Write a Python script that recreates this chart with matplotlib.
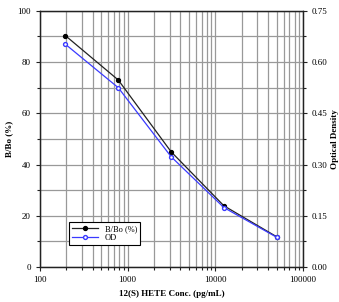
import matplotlib
matplotlib.use("Agg")
import matplotlib.pyplot as plt
from matplotlib.ticker import MultipleLocator, LogLocator, NullFormatter, FuncFormatter

conc = [195.3, 781.25, 3125, 12500, 50000]
bbo = [90.3, 73.0, 45.0, 23.9, 11.8]
od = [0.652, 0.525, 0.323, 0.174, 0.087]

xlabel = "12(S) HETE Conc. (pg/mL)"
ylabel_left = "B/Bo (%)"
ylabel_right = "Optical Density"
leg_labels = ["B/Bo (%)", "OD"]

plt.rcParams['font.family'] = ['Liberation Serif', 'DejaVu Serif']

fig = plt.figure(figsize=(3.39, 3.02), dpi=100)
ax = fig.add_axes([0.118, 0.116, 0.776, 0.848])
ax2 = ax.twinx()

ax.set_xscale('log')
ax.set_xlim(100, 100000)
ax.set_ylim(0, 100)
ax2.set_ylim(0, 0.75)

ax.xaxis.set_major_locator(LogLocator(base=10))
ax.xaxis.set_minor_locator(LogLocator(base=10, subs=range(2, 10)))
ax.xaxis.set_minor_formatter(NullFormatter())
ax.xaxis.set_major_formatter(FuncFormatter(lambda v, p: f"{int(v)}"))
ax.yaxis.set_major_locator(MultipleLocator(20))
ax.yaxis.set_minor_locator(MultipleLocator(10))
ax2.yaxis.set_major_locator(MultipleLocator(0.15))
ax2.yaxis.set_minor_locator(MultipleLocator(0.075))
ax2.yaxis.set_major_formatter(FuncFormatter(lambda v, p: f"{v:.2f}"))

gc = '#999999'
ax.grid(True, which='major', axis='both', color=gc, lw=0.9)
ax.grid(True, which='minor', axis='both', color=gc, lw=0.9)
ax.set_axisbelow(True)

for a in (ax, ax2):
    a.tick_params(which='both', direction='out', labelsize=6.5, width=0.8, color='#222222')
    a.tick_params(which='major', length=3)
    a.tick_params(which='minor', length=2)
    for s in a.spines.values():
        s.set_color('#222222')
        s.set_linewidth(0.9)

l1, = ax.plot(conc, bbo, color='#222222', lw=0.9, marker='o', ms=2.8,
              mfc='black', mec='black', label=leg_labels[0])
l2, = ax2.plot(conc, od, color='#3a3aff', lw=0.9, marker='o', ms=2.8,
               mfc='white', mec='#3a3aff', label=leg_labels[1])

ax.set_xlabel(xlabel, fontsize=6.5, fontweight='bold', labelpad=4)
ax.set_ylabel(ylabel_left, fontsize=6.5, fontweight='bold', labelpad=3)
ax2.set_ylabel(ylabel_right, fontsize=6.5, fontweight='bold', labelpad=2)

leg = ax.legend(handles=[l1, l2], loc='lower left', bbox_to_anchor=(0.095, 0.07),
                fontsize=6, fancybox=False, framealpha=1, edgecolor='black',
                handlelength=3.2, borderpad=0.3, labelspacing=0.2)
leg.get_frame().set_linewidth(0.8)

fig.savefig('out.png', dpi=100)
